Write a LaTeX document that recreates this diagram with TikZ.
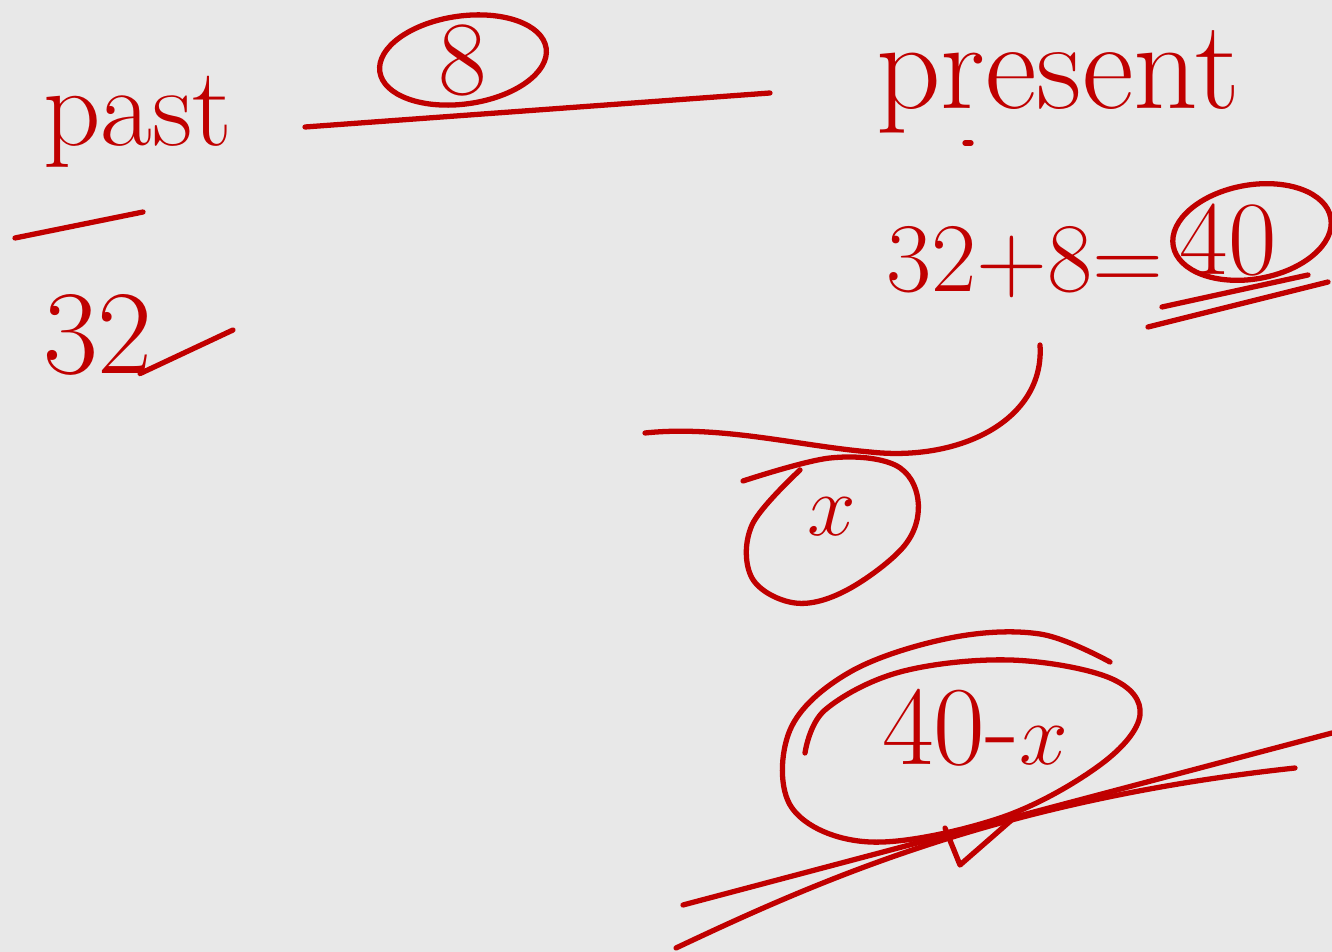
\documentclass[tikz,border=0pt]{standalone}
\usetikzlibrary{calc}
\definecolor{inkred}{HTML}{C00000}
\definecolor{board}{HTML}{E8E8E8}
\tikzset{every picture/.style={line width=0.75pt}}
\tikzset{
  ink/.style={draw=inkred, line width=1.5pt, line cap=round, line join=round},
  hand/.style={text=inkred, inner sep=0pt}
}

\begin{document}
\begin{tikzpicture}[x=0.01cm, y=-0.01cm]
    \fill[board] (0,0) rectangle (1332,952);
    \useasboundingbox (0,0) rectangle (1332,952);
    % past side
    \node[hand, font=\fontsize{32}{36}\selectfont] (past) at (138,122) {past};
    \draw[ink] (15,238) -- (143,212);
    \node[hand, font=\fontsize{34}{38}\selectfont] (thirtytwo) at (98,335) {32};
    \coordinate (tail) at (233,330);
    \draw[ink] ([xshift=-4pt]thirtytwo.base east) -- (tail);
    % gap of 8 years
    \draw[ink] (305,127) -- (770,93);
    \node[hand, font=\fontsize{30}{34}\selectfont] (eight) at (463,60) {8};
    \draw[ink, rotate around={8:(eight)}] (eight) ellipse [x radius=84, y radius=44];
    % present side
    \node[hand, font=\fontsize{36}{40}\selectfont] (present) at (1058,82) {present};
    \draw[ink] (965,143) -- (971,143);
    \node[hand, font=\fontsize{28}{32}\selectfont] (sum) at (1025,262) {32+8=};
    \node[hand, font=\fontsize{30}{34}\selectfont] (forty) at (1228,240) {40};
    \draw[ink, rotate around={10:(1252,232)}] (1252,232) ellipse [x radius=80, y radius=47];
    \draw[ink] (1162,307) -- (1308,275);
    \draw[ink] (1148,327) -- (1328,282);
    % split into x and 40-x
    \coordinate (split) at (645,433);
    \draw[ink] (1040,345) .. controls (1045,420) and (960,462) .. (870,452)
        .. controls (800,446) and (720,425) .. (split);
    \node[hand, font=\fontsize{34}{38}\selectfont] (x) at (832,517) {$x$};
    \draw[ink] plot[smooth, tension=0.6] coordinates {(743,481) (830,458) (895,465)
        (918,500) (905,545) (847,590) (795,603) (752,578) (752,525) (800,470)};
    \node[hand, font=\fontsize{32}{36}\selectfont] (rest) at (975,728) {40-$x$};
    \draw[ink] plot[smooth, tension=0.6] coordinates {(1110,662) (1040,634) (950,638)
        (850,672) (790,730) (792,808) (870,842) (1000,818) (1100,765) (1140,715)
        (1110,678) (1010,660) (900,672) (825,710) (805,753)};
    % crossed out
    \draw[ink] (683,905) -- (1332,733);
    \draw[ink] (676,948) .. controls (820,880) and (1000,800) .. (1295,768);
    \draw[ink] (945,828) -- (960,865) -- (1015,817);
\end{tikzpicture}
\end{document}
